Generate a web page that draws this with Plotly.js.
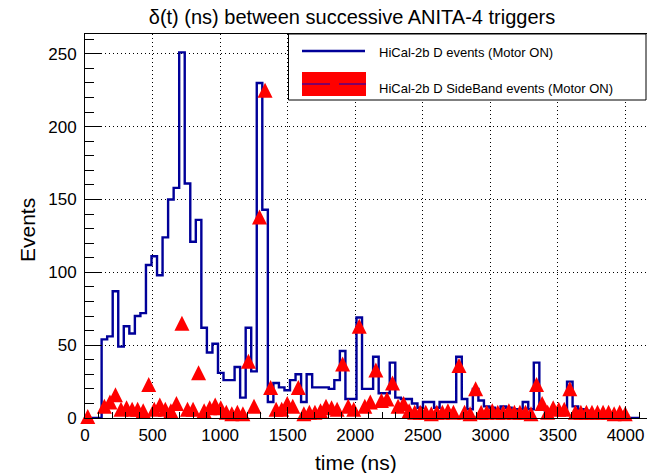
<!DOCTYPE html>
<html><head><meta charset="utf-8">
<script src="https://cdn.plot.ly/plotly-3.0.1.min.js"></script>
<style>html,body{margin:0;padding:0;background:#fff}#chart{width:647px;height:473px}</style>
</head><body><div id="chart"></div>
<script>
// Histogram binning (ns)
const binLow = 0;
const binWidth = 41;
const nBins = 100;

// HiCal-2b D events (Motor ON) - counts per bin
const signalCounts = [
  0,0,0,54,56,87,49,63,58,70,
  72,105,111,98,124,150,158,251,161,121,
  136,62,45,51,31,26,26,35,14,62,
  32,230,143,11,24,21,19,26,30,11,
  30,21,21,21,20,26,46,13,13,69,
  20,20,42,17,17,38,14,13,13,10,
  7,11,11,7,11,11,11,42,13,6,
  20,12,8,7,6,8,7,5,6,11,
  6,38,6,5,5,5,6,25,8,6,
  5,4,4,4,3,3,3,2,0,0
];

// HiCal-2b D SideBand events (Motor ON) - counts per bin
const sidebandCounts = [
  1,0,0,8,11,16,6,7,6,6,
  5,23,6,9,6,5,10,65,6,6,
  31,5,7,9,7,4,3,4,3,39,
  8,138,225,21,6,6,10,8,21,3,
  4,4,5,8,7,6,37,8,6,63,
  8,11,33,12,13,24,8,10,5,4,
  4,4,3,4,4,5,4,36,4,3,
  20,4,4,5,4,4,5,4,4,4,
  3,23,10,4,7,6,6,20,4,4,
  4,4,4,4,4,3,4,3,0,0
];

const xTickVals = [0,500,1000,1500,2000,2500,3000,3500,4000];
const yTickVals = [0,50,100,150,200,250];

const titleText = 'δ(t) (ns) between successive ANITA-4 triggers';
const xTitle = 'time (ns)';
const yTitle = 'Events';
const legendLabels = ['HiCal-2b D events (Motor ON)', 'HiCal-2b D SideBand events (Motor ON)'];

// ---- derived ----
const edges = [];
for (let i = 0; i <= nBins; i++) edges.push(binLow + i * binWidth);
const centers = edges.slice(0, nBins).map(e => e + binWidth / 2);

const lineX = edges.slice();
const lineY = signalCounts.concat([0]);

const markY = sidebandCounts.map(v => v > 0 ? v : null); // ROOT "P": empty bins not drawn

const W = 647, H = 473;
const M = {l: 85, r: 0, t: 34, b: 55};
const PW = W - M.l - M.r, PH = H - M.t - M.b;
const xRange = [0, 4158.7];
const yRange = [0, 263.6];
const markSize = 15;
const yShift = (markSize / 2) * (yRange[1] - yRange[0]) / PH;

const font = 'Liberation Sans, Arial, Helvetica, sans-serif';
const px = x => (x - M.l) / PW;
const py = y => (H - M.b - y) / PH;

const traces = [
  {
    x: lineX, y: lineY, type: 'scatter', mode: 'lines',
    line: {shape: 'hv', color: '#000099', width: 2.4},
    hoverinfo: 'skip', showlegend: false
  },
  {
    x: centers, y: markY, type: 'scatter', mode: 'markers', yaxis: 'y2',
    marker: {symbol: 'arrow-up', size: markSize, color: '#ff0000', line: {width: 0}},
    cliponaxis: false, hoverinfo: 'skip', showlegend: false
  }
];

const axisCommon = {
  ticks: 'inside', tickcolor: '#000', showline: true, linecolor: '#000', linewidth: 1,
  showgrid: true, gridcolor: '#000', gridwidth: 1, griddash: '1px,3px',
  zeroline: false, tickfont: {family: font, size: 17, color: '#000'}
};

const layout = {
  width: W, height: H,
  margin: M,
  paper_bgcolor: '#fff', plot_bgcolor: '#fff',
  showlegend: false,
  title: {text: titleText, font: {family: font, size: 20, color: '#000'},
          xref: 'paper', x: px(352), xanchor: 'center', yref: 'container', y: 1 - 17 / H, yanchor: 'middle'},
  xaxis: Object.assign({}, axisCommon, {
    range: xRange, tickmode: 'array', tickvals: xTickVals, ticklen: 11, mirror: true,
    ticklabelstandoff: 2,
    minor: {dtick: 100, tick0: 0, ticks: 'inside', ticklen: 6, tickcolor: '#000', showgrid: false}
  }),
  yaxis: Object.assign({}, axisCommon, {
    range: yRange, tickmode: 'array', tickvals: yTickVals, ticklen: 17,
    ticklabelstandoff: 4,
    minor: {dtick: 10, tick0: 0, ticks: 'inside', ticklen: 8.5, tickcolor: '#000', showgrid: false}
  }),
  yaxis2: {overlaying: 'y', range: [yRange[0] - yShift, yRange[1] - yShift], visible: false, showgrid: false, zeroline: false},
  shapes: [
    // legend box
    {type: 'rect', xref: 'paper', yref: 'paper', x0: px(288.5), x1: px(646), y0: py(100), y1: py(34),
     fillcolor: '#fff', line: {color: '#000', width: 1}, layer: 'above'},
    // entry 1: line sample
    {type: 'line', xref: 'paper', yref: 'paper', x0: px(302), x1: px(365), y0: py(51), y1: py(51),
     line: {color: '#000099', width: 2.5}, layer: 'above'},
    // entry 2: filled box with dashed line
    {type: 'rect', xref: 'paper', yref: 'paper', x0: px(302), x1: px(366), y0: py(96), y1: py(72),
     fillcolor: '#ff0000', line: {width: 0}, layer: 'above'},
    {type: 'line', xref: 'paper', yref: 'paper', x0: px(302), x1: px(366), y0: py(84), y1: py(84),
     line: {color: '#0000cc', width: 1, dash: '28px,9px'}, layer: 'above'}
  ],
  annotations: [
    {text: legendLabels[0], xref: 'paper', yref: 'paper', x: px(376.5), y: py(53), xanchor: 'left', yanchor: 'middle',
     showarrow: false, font: {family: font, size: 13, color: '#000'}},
    {text: legendLabels[1], xref: 'paper', yref: 'paper', x: px(376.5), y: py(88), xanchor: 'left', yanchor: 'middle',
     showarrow: false, font: {family: font, size: 13, color: '#000'}},
    {text: xTitle, xref: 'paper', yref: 'paper', x: px(355.5), y: py(462), xanchor: 'center', yanchor: 'middle',
     showarrow: false, font: {family: font, size: 21, color: '#000'}},
    {text: yTitle, xref: 'paper', yref: 'paper', x: px(27), y: py(230), xanchor: 'center', yanchor: 'middle', textangle: -90,
     showarrow: false, font: {family: font, size: 21, color: '#000'}}
  ]
};

Plotly.newPlot('chart', traces, layout, {staticPlot: true, displayModeBar: false});
</script>
</body></html>
